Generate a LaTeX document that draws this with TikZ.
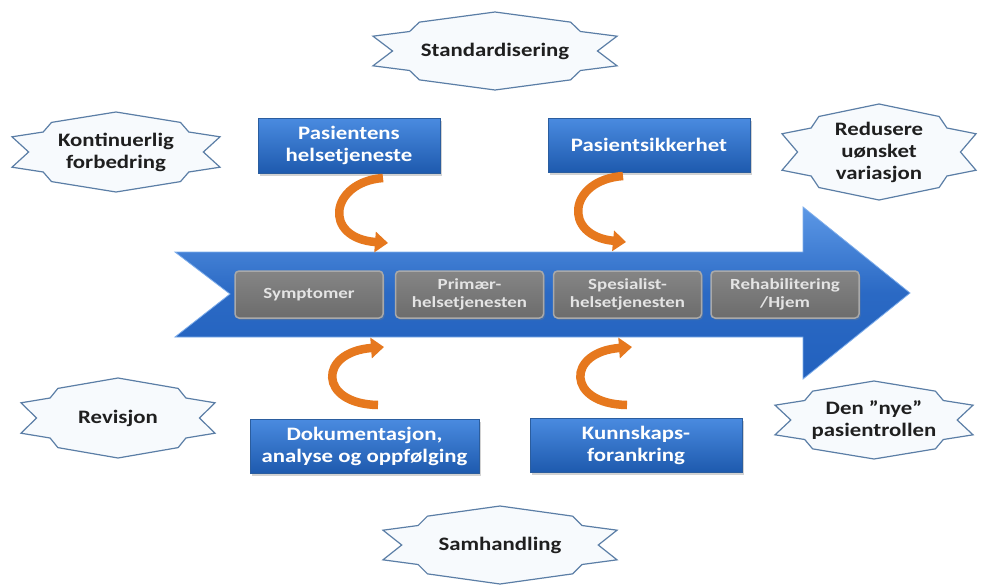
\documentclass[tikz,border=0pt]{standalone}
\usepackage{fontspec}
\usetikzlibrary{arrows.meta,shadows,calc}
\newfontfamily\cfb[FakeStretch=1.2]{Carlito Bold}
\newfontfamily\cfr[FakeStretch=1.22]{Carlito Bold}
\definecolor{cloudline}{HTML}{5B7EA6}
\definecolor{cloudfill}{HTML}{F7FAFD}
\definecolor{boxtop}{HTML}{4A8BE0}
\definecolor{boxbot}{HTML}{1E5AAE}
\definecolor{boxline}{HTML}{2B5D9E}
\definecolor{arrtop}{HTML}{5C98E6}
\definecolor{arrbot}{HTML}{2261BE}
\definecolor{greytop}{HTML}{858585}
\definecolor{greybot}{HTML}{6C6C6C}
\definecolor{greyline}{HTML}{A9A9A9}
\definecolor{greytext}{HTML}{E4E4E4}
\definecolor{orangec}{HTML}{E6781E}
\tikzset{
  cloudstyle/.style={draw=cloudline, fill=cloudfill, line width=1.2pt, line join=miter},
  cloudtext/.style={font=\cfb\fontsize{19}{22}\selectfont, text=black!88, align=center, inner sep=0pt},
  bluebox/.style={draw=boxline, line width=0.6pt, top color=boxtop, bottom color=boxbot,
    text=white, font=\cfb\fontsize{19}{22}\selectfont, align=center, inner sep=0pt,
    drop shadow={opacity=0.35, shadow xshift=2pt, shadow yshift=-2.5pt}},
  greybox/.style={draw=greyline, line width=1.5pt, rounded corners=4pt, top color=greytop, bottom color=greybot,
    text=greytext, font=\cfr\fontsize{15.5}{18}\selectfont, align=center, inner sep=0pt,
    minimum width=148pt, minimum height=47pt,
    drop shadow={opacity=0.35, shadow xshift=1.5pt, shadow yshift=-2pt}},
  bigarrow/.style={draw=arrtop!80!white, line width=0.8pt, top color=arrtop, bottom color=arrbot, middle color=arrbot!85!arrtop},
  orarrow/.style={draw=orangec, line width=8.5pt, -{Triangle[width=20pt,length=13pt]}},
}
\newcommand{\starcloud}[4]{%
  \begin{scope}[shift={(#1,#2)},xscale=#3,yscale=#4]
    \draw[cloudstyle] (-1,0.38) -- (-0.7,0.5) -- (-0.62,0.74) -- (0,1) -- (0.62,0.74) -- (0.7,0.5)
      -- (1,0.38) -- (0.84,0) -- (1,-0.38) -- (0.7,-0.5) -- (0.62,-0.74) -- (0,-1) -- (-0.62,-0.74)
      -- (-0.7,-0.5) -- (-1,-0.38) -- (-0.84,0) -- cycle;
  \end{scope}}
\begin{document}
\begin{tikzpicture}[x=1pt,y=-1pt]
\useasboundingbox (0,0) rectangle (981,586);
\fill[white] (0,0) rectangle (981,586);

% big process arrow
\draw[bigarrow] (175,252) -- (803,252) -- (803,207) -- (910,293) -- (803,379) -- (803,337)
  -- (175,337) -- (230,294) -- cycle;

% grey stage boxes
\node[greybox] (symp) at (309,294.5) {Symptomer};
\node[greybox] (prim) at (469.5,294.5) {Primær-\\helsetjenesten};
\node[greybox] (spes) at (627.5,294.5) {Spesialist-\\helsetjenesten};
\node[greybox] (reha) at (785,294.5) {Rehabilitering\\/Hjem};

% blue boxes
\node[bluebox, minimum width=182pt, minimum height=55pt] (pashel) at (349,145.5) {Pasientens\\helsetjeneste};
\node[bluebox, minimum width=202pt, minimum height=54pt] (passik) at (649,145) {Pasientsikkerhet};
\node[bluebox, minimum width=229pt, minimum height=54pt] (dok) at (364.5,446) {Dokumentasjon,\\analyse og oppfølging};
\node[bluebox, minimum width=212pt, minimum height=54pt] (kunn) at (636,445) {Kunnskaps-\\forankring};

% orange curved arrows
\coordinate (o1s) at (383,178); \coordinate (o1e) at (388,243);
\coordinate (o2s) at (623,176); \coordinate (o2e) at (626,242);
\coordinate (o3s) at (378,405); \coordinate (o3e) at (384,347);
\coordinate (o4s) at (627,405); \coordinate (o4e) at (632,347);
\draw[orarrow] (o1s) .. controls (330,182) and (322,238) .. (o1e);
\draw[orarrow] (o2s) .. controls (568,180) and (562,236) .. (o2e);
\draw[orarrow] (o3s) .. controls (318,404) and (318,352) .. (o3e);
\draw[orarrow] (o4s) .. controls (566,404) and (566,352) .. (o4e);

% clouds
\starcloud{495}{51}{122}{39}
\node[cloudtext] (std) at (495,51) {Standardisering};
\starcloud{116}{152}{104}{40}
\node[cloudtext] (kont) at (116,152) {Kontinuerlig\\forbedring};
\starcloud{879}{152}{97}{48}
\node[cloudtext] (red) at (879,152) {Redusere\\uønsket\\variasjon};
\starcloud{118}{418}{97}{40}
\node[cloudtext] (rev) at (118,418) {Revisjon};
\starcloud{874}{420}{99}{39}
\node[cloudtext] (nye) at (874,420) {Den ”nye”\\pasientrollen};
\starcloud{500}{545}{117}{39}
\node[cloudtext] (sam) at (500,545) {Samhandling};
\end{tikzpicture}
\end{document}
